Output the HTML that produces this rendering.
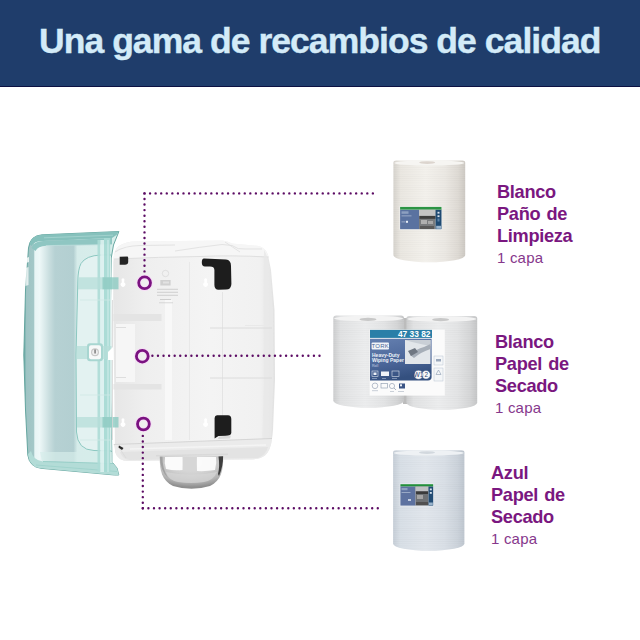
<!DOCTYPE html>
<html><head><meta charset="utf-8">
<style>
html,body{margin:0;padding:0;background:#fff;}
body{width:640px;height:640px;position:relative;overflow:hidden;font-family:"Liberation Sans",sans-serif;}
.hdr{position:absolute;left:0;top:0;width:640px;height:86px;background:#1f3d6b;border-bottom:1px solid #0c1142;}
.title{position:absolute;left:39px;top:23.5px;font-size:35.5px;font-weight:bold;color:#d3ebf8;letter-spacing:-0.95px;-webkit-text-stroke:0.4px #d3ebf8;white-space:nowrap;line-height:34px;}
.lbl{position:absolute;color:#7a1780;font-size:18.2px;line-height:22px;font-weight:bold;white-space:nowrap;letter-spacing:-0.3px;word-spacing:1.5px;}
.lbl .s{font-weight:normal;font-size:15px;letter-spacing:0.2px;word-spacing:0;color:#86388c;display:block;}
svg{position:absolute;left:0;top:0;}
</style></head>
<body>
<div class="hdr"></div>
<div class="title">Una gama de recambios de calidad</div>

<svg width="640" height="640" viewBox="0 0 640 640">
<defs>
<linearGradient id="rgw" x1="0" x2="1" y1="0" y2="0">
<stop offset="0" stop-color="#d6d3cd"/><stop offset="0.1" stop-color="#eae7e1"/><stop offset="0.45" stop-color="#f3f1ec"/><stop offset="0.72" stop-color="#ebe8e3"/><stop offset="0.9" stop-color="#dedad4"/><stop offset="1" stop-color="#cdc9c3"/>
</linearGradient>
<linearGradient id="rgg" x1="0" x2="1" y1="0" y2="0">
<stop offset="0" stop-color="#cdcecf"/><stop offset="0.1" stop-color="#e1e2e3"/><stop offset="0.45" stop-color="#ecedee"/><stop offset="0.72" stop-color="#e3e4e5"/><stop offset="0.9" stop-color="#d5d6d7"/><stop offset="1" stop-color="#c5c6c7"/>
</linearGradient>
<linearGradient id="rgb" x1="0" x2="1" y1="0" y2="0">
<stop offset="0" stop-color="#c6ced7"/><stop offset="0.1" stop-color="#d8dfe6"/><stop offset="0.45" stop-color="#e1e6ec"/><stop offset="0.72" stop-color="#d9dfe6"/><stop offset="0.9" stop-color="#ccd3db"/><stop offset="1" stop-color="#bec6cf"/>
</linearGradient>
<pattern id="lines" width="4" height="2.2" patternUnits="userSpaceOnUse"><rect width="4" height="0.6" fill="#000" opacity="0.025"/></pattern>
</defs>

<!-- roll 1 white -->
<g>
<path d="M393.4,162.5 Q393.4,160.5 396.4,160.5 L462.2,160.5 Q465.2,160.5 465.2,162.5 L465.2,255.3 A35.9,7 0 0 1 393.4,255.3 Z" fill="url(#rgw)"/>
<path d="M393.4,162.5 Q393.4,160.5 396.4,160.5 L462.2,160.5 Q465.2,160.5 465.2,162.5 L465.2,255.3 A35.9,7 0 0 1 393.4,255.3 Z" fill="url(#lines)"/>
<ellipse cx="429.3" cy="163" rx="35" ry="2.6" fill="#f6f5f2"/>
<ellipse cx="427.2" cy="162.6" rx="8" ry="1.4" fill="#dcd5ce"/>
<rect x="399.6" y="206.4" width="42.4" height="23.4" fill="#f6f6f4"/>
<rect x="400.1" y="206.9" width="41.4" height="2.8" fill="#2c9443"/>
<rect x="400.1" y="209.2" width="41.4" height="0.6" fill="#6cc07a"/>
<rect x="400.1" y="209.8" width="18.9" height="19.4" fill="#5a72a0"/>
<rect x="419" y="209.8" width="16.6" height="19.4" fill="#7a7c7e"/>
<rect x="419" y="209.8" width="16.6" height="6" fill="#c4c4c4"/>
<rect x="419.5" y="216" width="16" height="2.8" fill="#3e3e3e"/>
<rect x="421" y="220" width="6" height="4" fill="#b0b0b0"/>
<rect x="428" y="221" width="5" height="3" fill="#a8a8a8"/>
<rect x="420" y="226" width="14" height="3" fill="#5a5a5a"/>
<rect x="435.6" y="209.8" width="5.9" height="19.4" fill="#1f4a72"/>
<rect x="437.5" y="211.8" width="2" height="1.8" fill="#d8e2ee"/>
<rect x="437.5" y="215.3" width="2" height="1.8" fill="#d8e2ee"/>
<rect x="437.5" y="218.5" width="2" height="3" fill="#5c82a8"/>
<rect x="436.2" y="225.8" width="4.8" height="3" fill="#9ab4cc"/>
<rect x="401.5" y="211.3" width="7" height="2.5" fill="#8da0c0"/>
<rect x="401.5" y="215.5" width="10" height="0.8" fill="#a9b7d0"/>
<rect x="401.5" y="221.5" width="4" height="0.8" fill="#a9b7d0"/>
<rect x="406" y="220.8" width="2" height="2" fill="#e6ecf4"/>
</g>

<!-- roll 2 double -->
<g>
<rect x="403" y="318" width="4.5" height="86" fill="#bcbcbc"/>
<path d="M333.3,318 Q333.3,315.5 336.3,315.5 L401,315.5 Q404,315.5 404,318 L404,400.8 A35.35,7 0 0 1 333.3,400.8 Z" fill="url(#rgg)"/>
<path d="M333.3,318 Q333.3,315.5 336.3,315.5 L401,315.5 Q404,315.5 404,318 L404,400.8 A35.35,7 0 0 1 333.3,400.8 Z" fill="url(#lines)"/>
<ellipse cx="368.6" cy="318.5" rx="34.5" ry="2.8" fill="#f3f3f3"/>
<ellipse cx="368" cy="319.4" rx="8.5" ry="1.6" fill="#c8c8c8"/>
<path d="M406.4,318.5 Q406.4,316 409.4,316 L474.2,316 Q477.2,316 477.2,318.5 L477.2,402.7 A35.4,7 0 0 1 406.4,402.7 Z" fill="url(#rgg)"/>
<path d="M406.4,318.5 Q406.4,316 409.4,316 L474.2,316 Q477.2,316 477.2,318.5 L477.2,402.7 A35.4,7 0 0 1 406.4,402.7 Z" fill="url(#lines)"/>
<ellipse cx="441.8" cy="319" rx="34.6" ry="2.8" fill="#f3f3f3"/>
<ellipse cx="440.6" cy="319.7" rx="8.5" ry="1.6" fill="#c8c8c8"/>
<!-- label -->
<rect x="369.6" y="329.6" width="75.2" height="66" fill="#fbfbfb"/>
<rect x="370" y="329.9" width="62" height="8" fill="#2a7fa8"/>
<text x="430.5" y="336.6" font-size="8.4" font-weight="bold" fill="#fff" text-anchor="end" font-family="Liberation Sans">47 33 82</text>
<linearGradient id="bp" x1="0" x2="0.3" y1="0" y2="1"><stop offset="0" stop-color="#6580b0"/><stop offset="0.6" stop-color="#4c679a"/><stop offset="1" stop-color="#34507f"/></linearGradient>
<path d="M370,338.8 L431.6,338.8 L431.6,377 Q431.6,380.4 428,380.4 L370,380.4 Z" fill="url(#bp)"/>
<rect x="405" y="340" width="25.5" height="24" fill="#e2e6ea"/>
<path d="M405,340 L430.5,340 L430.5,346 Q420,344 412,342 Z" fill="#c9cfd6"/>
<path d="M410,355 Q416,349 424,347 L430.5,344 L430.5,349 Q421,352 414,358 Z" fill="#a6aeb8"/>
<path d="M408,351 L415,348 L418,352 L411,356 Z" fill="#6f7782"/>
<rect x="371.6" y="342.4" width="17.4" height="7" rx="1" fill="#f2f4f8"/>
<text x="380.3" y="348.3" font-size="6" fill="#4a6797" text-anchor="middle" font-family="Liberation Sans" letter-spacing="0.2">TORK</text>
<text x="372" y="357.4" font-size="5" font-weight="bold" fill="#eef2f8" font-family="Liberation Sans">Heavy-Duty</text>
<text x="372" y="362.4" font-size="5" font-weight="bold" fill="#eef2f8" font-family="Liberation Sans">Wiping Paper</text>
<text x="372" y="366.8" font-size="3.6" fill="#c8d2e4" font-family="Liberation Sans">Roll</text>
<rect x="372" y="371" width="6" height="5.5" fill="none" stroke="#dde4ef" stroke-width="0.6"/><rect x="373.5" y="372.5" width="3" height="2.5" fill="#eef2f8"/>
<rect x="381" y="371.5" width="8" height="4.5" fill="#eef2f8"/>
<rect x="392" y="371" width="7" height="5.5" fill="none" stroke="#dde4ef" stroke-width="0.6"/>
<rect x="372" y="378" width="5" height="0.7" fill="#9fb0cc"/><rect x="382" y="378" width="4" height="0.7" fill="#9fb0cc"/><rect x="392" y="378" width="5" height="0.7" fill="#9fb0cc"/>
<circle cx="426" cy="374.8" r="4.3" fill="#fafafa" stroke="#2f4b7c" stroke-width="0.4"/>
<circle cx="418.5" cy="374.8" r="4.5" fill="#fafafa" stroke="#2f4b7c" stroke-width="0.4"/>
<text x="418.5" y="377.2" font-size="6.4" fill="#2a4676" text-anchor="middle" font-family="Liberation Sans">W1</text>
<text x="426.3" y="377.2" font-size="6.4" fill="#2a4676" text-anchor="middle" font-family="Liberation Sans">2</text>
<rect x="434" y="356" width="9" height="9" fill="#f4f6f8" stroke="#b9c4d2" stroke-width="0.5"/>
<rect x="436" y="359" width="5" height="2.5" fill="#9aa8bc"/>
<rect x="434" y="368" width="9" height="13" fill="#f4f6f8" stroke="#b9c4d2" stroke-width="0.5"/>
<path d="M438.5,370 L441,374.5 L436,374.5 Z" fill="none" stroke="#8a9ab0" stroke-width="0.6"/>
<circle cx="375" cy="385.8" r="2.8" fill="none" stroke="#8896ab" stroke-width="0.6"/>
<rect x="381" y="383.5" width="6.5" height="4.5" fill="none" stroke="#8896ab" stroke-width="0.6"/>
<circle cx="392" cy="386" r="2.6" fill="none" stroke="#8896ab" stroke-width="0.6"/>
<path d="M394,388 L396,390" stroke="#8896ab" stroke-width="0.7"/>
<rect x="399" y="383.5" width="6" height="5" fill="#3b5585"/>
<rect x="400" y="384.3" width="2" height="2" fill="#eef2f8"/>
<rect x="372" y="390.5" width="6" height="0.6" fill="#aab4c2"/><rect x="390" y="391" width="4" height="0.6" fill="#aab4c2"/><rect x="398" y="391" width="6" height="0.6" fill="#aab4c2"/>
</g>

<!-- roll 3 blue -->
<g>
<path d="M393.1,452.5 Q393.1,450.3 396.1,450.3 L461.4,450.3 Q464.4,450.3 464.4,452.5 L464.4,543.7 A35.65,7 0 0 1 393.1,543.7 Z" fill="url(#rgb)"/>
<path d="M393.1,452.5 Q393.1,450.3 396.1,450.3 L461.4,450.3 Q464.4,450.3 464.4,452.5 L464.4,543.7 A35.65,7 0 0 1 393.1,543.7 Z" fill="url(#lines)"/>
<ellipse cx="428.8" cy="453" rx="35" ry="2.6" fill="#eef1f4"/>
<ellipse cx="427" cy="452.6" rx="8" ry="1.4" fill="#d2d8de"/>
<rect x="399.8" y="483.6" width="34" height="22.8" fill="#eef1f4"/>
<rect x="400.4" y="484.2" width="32.8" height="2.4" fill="#238f3c"/>
<rect x="400.4" y="486.6" width="15.1" height="19" fill="#5d72a0"/>
<rect x="415.5" y="486.6" width="13" height="19" fill="#6e7174"/>
<rect x="415.5" y="486.6" width="13" height="4.5" fill="#bfc1c3"/>
<rect x="416" y="491.5" width="12" height="2.5" fill="#3a3a3a"/>
<rect x="417" y="495" width="6" height="4" fill="#a4a4a4"/>
<rect x="416" y="502" width="12" height="3" fill="#505050"/>
<rect x="428.5" y="486.6" width="4.7" height="19" fill="#224c74"/>
<rect x="429.8" y="488.5" width="2" height="1.8" fill="#d8e2ee"/>
<rect x="429.8" y="492" width="2" height="1.8" fill="#d8e2ee"/>
<rect x="429" y="502.5" width="3.8" height="2.6" fill="#9ab4cc"/>
<rect x="401.5" y="488" width="6" height="2.2" fill="#8da0c0"/>
<rect x="401.5" y="492" width="9" height="0.8" fill="#a9b7d0"/>
<rect x="408" y="499" width="3" height="2" fill="#c4cee0"/>
</g>

<!-- dispenser body -->
<defs>
<linearGradient id="bodyg" x1="113" x2="276" y1="0" y2="0" gradientUnits="userSpaceOnUse">
<stop offset="0" stop-color="#e6e6e6"/><stop offset="0.2" stop-color="#efefef"/><stop offset="0.6" stop-color="#f4f4f4"/><stop offset="0.9" stop-color="#f1f1f1"/><stop offset="1" stop-color="#e0e0e0"/>
</linearGradient>
<linearGradient id="domeg" x1="0" x2="0" y1="0" y2="1">
<stop offset="0" stop-color="#f4f4f4"/><stop offset="0.45" stop-color="#e8e8e8"/><stop offset="0.6" stop-color="#c4c4c4"/><stop offset="0.85" stop-color="#b4b4b4"/><stop offset="1" stop-color="#9a9a9a"/>
</linearGradient>
<linearGradient id="lidg" x1="23" x2="120" y1="0" y2="0" gradientUnits="userSpaceOnUse">
<stop offset="0" stop-color="#5f9f9a"/><stop offset="0.025" stop-color="#86b8b6"/><stop offset="0.035" stop-color="#9ec3c3"/><stop offset="0.11" stop-color="#a4c8c8"/><stop offset="0.122" stop-color="#e8f5f5"/><stop offset="0.17" stop-color="#eef8f8"/><stop offset="0.28" stop-color="#c6dcdd"/><stop offset="0.33" stop-color="#b6d1d3"/><stop offset="0.52" stop-color="#b3cfd1"/><stop offset="0.56" stop-color="#d6ecea"/><stop offset="1" stop-color="#d8eeeb"/>
</linearGradient>
</defs>
<path id="bodyp" d="M113.3,262 Q113.5,250 119,246 Q125,241.6 136,241.4 L222,240.4 Q228,240.8 232,243.5 L257,245.8 Q265.5,247 268,255 L271,270 L274.5,310 L275,380 L273,430 Q271.5,450 265,455.5 Q260,459.5 248,459.6 L128,461 Q118,461 115,452 L113.2,300 Z" fill="url(#bodyg)"/>
<!-- top cap -->
<path d="M113.3,262 Q113.5,250 119,246 Q125,241.6 136,241.4 L222,240.4 Q228,240.8 232,243.5 L257,245.8 Q265.5,247 268,255 L268.5,257 Q230,255 200,256.5 Q160,257 114,259 Z" fill="#f6f6f6"/>
<path d="M114,259 Q160,257 200,256.5 Q230,255 268.5,257" fill="none" stroke="#dcdcdc" stroke-width="0.9"/>
<path d="M115,252 Q125,245.5 140,245.5 L175,245" fill="none" stroke="#e2e2e2" stroke-width="1.2"/>
<path d="M175,251 Q200,247 222,244.5 L232,245.5 Q238,250 245,249 L262,249" fill="none" stroke="#e3e3e3" stroke-width="1"/>
<path d="M225,242 L240,252" stroke="#dedede" stroke-width="0.8"/>
<!-- right edge shading -->
<path d="M264,250 Q268,256 270,270 L273,310 L273.5,380 L271.5,430 Q270.5,446 266,452 L262,452 L264,380 L263.5,300 Z" fill="#e9e9e9" opacity="0.8"/>
<!-- panel lines -->
<path d="M189.5,262 L189.5,300" stroke="#e4e4e4" stroke-width="0.8"/>
<path d="M222.5,292 L222.5,420" stroke="#e0e0e0" stroke-width="0.8"/>
<path d="M210,328 L272,328" stroke="#dcdcdc" stroke-width="1"/>
<path d="M210,378 L272,378" stroke="#dcdcdc" stroke-width="1"/>
<path d="M245,325.5 L272,325.5" stroke="#e9e9e9" stroke-width="1"/>
<rect x="113.5" y="314" width="48" height="7" fill="#e4e4e4"/>
<rect x="113.5" y="384" width="48" height="5.5" fill="#e4e4e4"/>
<rect x="116" y="324" width="19" height="58" fill="#f6f6f6"/>
<rect x="116" y="327" width="10" height="1" fill="#dedede"/><rect x="116" y="377" width="10" height="1" fill="#dedede"/>
<rect x="165" y="300" width="7" height="140" fill="#f8f8f8"/>
<path d="M189.5,300 L189.5,440" stroke="#e4e4e4" stroke-width="0.8"/>
<!-- bottom tray -->
<path d="M113.8,444.5 L272,438.5 Q271,450 265,455.5 Q260,459.5 248,459.6 L128,461 Q119,461 116,454 Z" fill="#ebebeb"/>
<path d="M120,452 L268,447 Q266,455 258,458 L130,460 Q122,459 120,452 Z" fill="#e3e3e3"/>
<path d="M113.8,444.5 L272,438.5" stroke="#d2d2d2" stroke-width="0.9"/>
<path d="M118,446 L126,458" stroke="#d8d8d8" stroke-width="0.8"/>
<path d="M130,449 L266,445" stroke="#f4f4f4" stroke-width="1.5"/>
<!-- keyholes -->
<g fill="#ffffff">
<path d="M121.6,279 Q123,277.5 124.4,279 L124.2,282.5 A2.3,2.3 0 1 1 121.8,282.5 Z"/>
<path d="M204.2,279 Q205.6,277.5 207,279 L206.8,282.5 A2.3,2.3 0 1 1 204.4,282.5 Z"/>
<path d="M121.6,419 Q123,417.5 124.4,419 L124.2,422.5 A2.3,2.3 0 1 1 121.8,422.5 Z"/>
<path d="M204.2,419 Q205.6,417.5 207,419 L206.8,422.5 A2.3,2.3 0 1 1 204.4,422.5 Z"/>
</g>
<!-- tork mark text -->
<g fill="#cacaca">
<circle cx="165.5" cy="273.5" r="3.2" fill="none" stroke="#d2d2d2" stroke-width="0.6"/>
<rect x="160.3" y="280" width="10.3" height="5.5" fill="#d0d0d0"/>
<rect x="163" y="281.5" width="6" height="2" fill="#e2e2e2"/>
<rect x="157" y="288.8" width="21" height="0.9"/><rect x="157" y="291.8" width="21" height="0.9"/><rect x="157" y="294.8" width="21" height="0.9"/>
<rect x="160" y="299" width="11" height="0.9"/><rect x="159" y="302.5" width="14" height="0.7"/>
</g>
<!-- black brackets -->
<path d="M204,258.5 L226,259.5 Q231,260 231,266 L231.4,284 Q231.2,289.5 226,289.6 L218.5,289.8 Q214.5,289.8 214.4,285 L214.4,270 Q214.3,266.6 210,266.6 L205,266.6 Q201.8,266.3 201.8,262.5 Q201.8,258.5 204,258.5 Z" fill="#1d1d1d"/>
<path d="M217,415.2 L228,415.2 Q231.3,415.5 231.3,419 L231.3,433 Q231,435.5 227,435.7 L218.5,436 L214.6,438.6 L214.6,418 Q214.8,415.3 217,415.2 Z" fill="#1d1d1d"/>
<path d="M219,436.5 L231,435.5 L230,438.5 L218,439 Z" fill="#d8d8d8"/>
<path d="M119.7,256.8 L127.5,256.6 Q128.2,256.8 128.2,258 L128.2,262 Q128,264.7 125,264.7 L119.7,264.7 Z" fill="#242424"/>
<path d="M119,445.5 L123.5,448 L122,450 L118.5,447.5 Z" fill="#2a2a2a"/>
<!-- dome -->
<defs>
<radialGradient id="domer" cx="0.5" cy="0.2" r="0.75">
<stop offset="0" stop-color="#e6e6e6"/><stop offset="0.5" stop-color="#cfcfcf"/><stop offset="0.8" stop-color="#b3b3b3"/><stop offset="1" stop-color="#8e8e8e"/>
</radialGradient>
</defs>
<path d="M159.8,456.2 L223.1,456.2 C223.6,471 221,480 210,486 Q201,488.8 191.5,488.8 Q182,488.8 173,486 C162,480 159.4,471 159.8,456.2 Z" fill="url(#domer)"/>
<path d="M165,457 L182.5,457 L182.5,470 Q174,471 166,469 Q164,463 165,457 Z" fill="#fdfdfd" opacity="0.95"/>
<path d="M197,457 L216,457 Q217,463 215,470 Q206,471.5 197,471 Z" fill="#fcfcfc" opacity="0.95"/>
<rect x="183" y="457" width="13.5" height="14" fill="#d6d6d6"/>
<path d="M166,472 Q191,477 217,472 Q214,480 204,482 Q191,484 178,482 Q168,480 166,472 Z" fill="#d6d6d6" opacity="0.75"/>
<path d="M218.5,456.5 L223.1,456.2 Q223.3,466 219,476 L218,474 Q220,466 218.5,456.5 Z" fill="#3e3e3e"/>
<path d="M159.8,456.4 L162.5,456.6 Q162,468 168,478 Q160,470 159.8,456.4 Z" fill="#a0a0a0"/>
<path d="M156,455.8 L228,454.3" stroke="#d9d9d9" stroke-width="1.4"/>

<!-- lid -->
<path id="lidp" d="M118.9,231.5 L42,234.8 Q30,235.6 28.5,248 L25.5,290 L23.8,355 L25.5,410 L27.8,455 Q29.5,467 41,468.3 L114.6,475 L118.8,475 L117,468 L112,462 L110.8,400 L110.6,300 L111.2,258 L113.5,245 Z" fill="url(#lidg)" stroke="#5a9f98" stroke-width="0.9"/>
<!-- window -->
<path d="M111,255 L101,255 Q86,255.5 81,263.5 Q78,269 77.8,282 L76,355 L76.5,432 Q77.5,450 94,450.5 L111.5,451 Z" fill="#e3f2f1"/>
<path d="M111,255 L101,255 Q86,255.5 81,263.5 Q78,269 77.8,282 L76,355 L76.5,432 Q77.5,450 94,450.5 L111.5,451" fill="none" stroke="#8cc8c1" stroke-width="1"/>
<!-- below window -->
<path d="M40,452 L112,452 L113,464 L42,461 Z" fill="#d6ecea" opacity="0.7"/>
<!-- lid top rim -->
<path d="M118.9,231.5 L42,234.8 Q31,235.6 29.5,244 L31.5,246 Q34,241 43,241 L112,238 L116.5,235 Z" fill="#86c1bc"/>
<path d="M43,241 L112,238 L112,244.5 L46,245.8 Q38,246 35.5,251 L31.5,248 Q34,241 43,241 Z" fill="#8fc6c2"/>
<path d="M44,237.8 L113,235.2" stroke="#a8d6d2" stroke-width="0.8"/>
<path d="M46,245.6 L112,244.6" stroke="#c2e0de" stroke-width="0.8"/>
<!-- lid bottom rim -->
<path d="M28,454 Q29.5,467 41,468.3 L114.6,475 L118.8,475 L117,468 L113,463.5 L43,461.5 Q33,460.5 31,451 Z" fill="#b3dcd7"/>
<path d="M43,461.5 L113,463.5" stroke="#8ecac3" stroke-width="0.8"/>
<path d="M36,465 L117,471.5" stroke="#9ad0c9" stroke-width="0.7"/>
<!-- lid side walls (right) -->
<rect x="97.5" y="240" width="2.8" height="232" fill="#acdcd6" opacity="0.9"/>
<rect x="100.3" y="240" width="3.7" height="232" fill="#dcf1ef" opacity="0.9"/>
<path d="M104,238 L110.2,238 L110.2,472 L104,472 Z" fill="#a8dad4" opacity="0.95"/>
<rect x="107.3" y="240" width="1.4" height="232" fill="#d0ecea" opacity="0.8"/>
<!-- horizontal bands -->
<rect x="78" y="277.3" width="34" height="12" fill="#b5ddd8" opacity="0.75"/>
<rect x="102.5" y="277.3" width="16" height="12" fill="#8ccac2" opacity="0.8"/>
<rect x="76.5" y="346" width="35" height="13" fill="#b5ddd8" opacity="0.75"/>
<rect x="77" y="417" width="35" height="10.5" fill="#b5ddd8" opacity="0.75"/>
<rect x="102.5" y="417" width="16" height="10.5" fill="#8ccac2" opacity="0.8"/>
<path d="M80,300 L110,300 M80,395 L110,395 M80,440 L110,440" stroke="#cfe9e6" stroke-width="0.8"/>
<path d="M112.5,300 L112.5,440" stroke="#d6d6d6" stroke-width="0.8"/>
<!-- lock -->
<rect x="87" y="343.3" width="16" height="18" rx="3" fill="#a8d6d1"/>
<rect x="89" y="345.3" width="12" height="14" rx="2" fill="#f7f9f9"/>
<circle cx="95" cy="352.3" r="4" fill="#c8c8c8"/>
<circle cx="95" cy="352.3" r="2.8" fill="#eeeeee"/>
<rect x="94.5" y="349.5" width="1.1" height="4" fill="#555"/>
<!-- white latch at right -->
<path d="M108,352 L113,347 L113,360 L108,360 Z" fill="#ffffff"/>
<!-- left edge notches -->
<path d="M26,258 L29,257 L29,262 L26,263 Z" fill="#ffffff" opacity="0.8"/>
<path d="M25.5,268 L28.5,267 L28.5,285 L25.5,286 Z" fill="#ffffff" opacity="0.7"/>

<!-- dotted lines -->
<g fill="none" stroke="#5c0c64" stroke-width="2.4" stroke-linecap="round" stroke-dasharray="0 5.57">
<path d="M144.5,193.4 L373.2,193.4"/>
<path d="M144.5,193.4 L144.5,272.5"/>
<path d="M152.4,355.7 L320,355.7"/>
<path d="M142.8,508.3 L377.8,508.3" stroke-dasharray="0 5.595"/>
<path d="M142.8,508.3 L142.8,435"/>
</g>
<g fill="none" stroke="#f6dcf6" stroke-width="4.8">
<circle cx="144.6" cy="282.8" r="5.9"/>
<circle cx="142.3" cy="356.2" r="5.9"/>
<circle cx="143.4" cy="424" r="5.9"/>
</g>
<g fill="none" stroke="#7a1280" stroke-width="2.8">
<circle cx="144.6" cy="282.8" r="5.9"/>
<circle cx="142.3" cy="356.2" r="5.9"/>
<circle cx="143.4" cy="424" r="5.9"/>
</g>
</svg>

<div class="lbl" style="left:497px;top:181px">Blanco<br>Paño de<br>Limpieza<span class="s">1 capa</span></div>
<div class="lbl" style="left:495px;top:331px">Blanco<br>Papel de<br>Secado<span class="s">1 capa</span></div>
<div class="lbl" style="left:491px;top:461.5px">Azul<br>Papel de<br>Secado<span class="s">1 capa</span></div>
</body></html>
